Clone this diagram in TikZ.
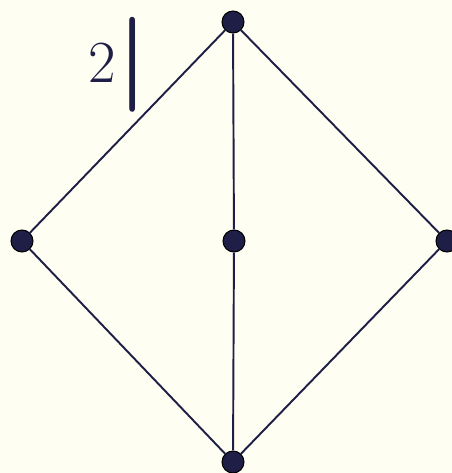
\documentclass[tikz,border=0pt]{standalone}
\usepackage{xcolor}
\usepackage{tikz}
\usetikzlibrary{positioning,calc}
\definecolor{inkNavy}{HTML}{1E1E46}
\definecolor{paperTone}{HTML}{FFFEF2}
\tikzset{
  latt/.style={circle,fill=inkNavy,draw=black,line width=0.6pt,inner sep=0pt,minimum size=4.4mm},
  ledge/.style={draw=inkNavy,line width=1.1pt},
  lmark/.style={inner sep=0pt,text=inkNavy},
}

\begin{document}
\begin{tikzpicture}
\useasboundingbox[fill=paperTone] (0,0) rectangle (9.04,-9.46);
\node[latt] (ltop) at (4.66,-0.44) {};
\node[latt] (lmid) at (4.68,-4.82) {};
\node[latt] (lleft) at (0.44,-4.82) {};
\node[latt] (lright) at (8.94,-4.82) {};
\node[latt] (lbot) at (4.66,-9.24) {};
\draw[ledge] (ltop)--(lleft); \draw[ledge] (ltop)--(lmid); \draw[ledge] (ltop)--(lright);
\draw[ledge] (lleft)--(lbot); \draw[ledge] (lmid)--(lbot); \draw[ledge] (lright)--(lbot);
\node[lmark,font=\fontsize{34}{34}\selectfont] (ltwo) at (2.05,-1.25) {2};
\node[lmark,font=\bfseries\fontsize{54}{54}\selectfont] (lbar) at (2.66,-1.3) {|};
\end{tikzpicture}
\end{document}
